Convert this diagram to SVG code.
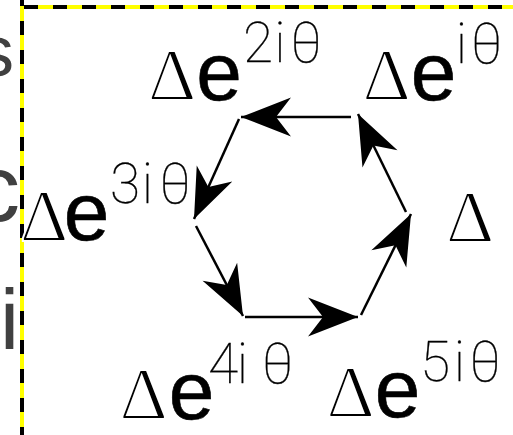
<svg xmlns="http://www.w3.org/2000/svg" width="513" height="435" viewBox="0 0 513 435">
<style>
.bg{font-family:"Liberation Sans",Arial,sans-serif;fill:#404040}
.d{font-family:"Liberation Serif","Times New Roman",serif;font-size:75px;fill:#000;stroke:#fff;stroke-width:2px;text-anchor:middle}
.e{font-family:"Liberation Sans",Arial,sans-serif;font-size:82px;fill:#000;stroke:#000;stroke-width:0.6px;text-anchor:middle}
.s{font-family:Roboto,"Liberation Sans",sans-serif;font-weight:100;font-size:55px;fill:#000;stroke:#000;stroke-width:0.3px;text-anchor:middle}
.c{fill:none;stroke:#000;stroke-width:2.5;marker-end:url(#ah)}
</style>
<defs>
<clipPath id="lc"><rect x="0" y="0" width="20" height="435"/></clipPath>
<marker id="ah" markerUnits="userSpaceOnUse" markerWidth="54" markerHeight="42" viewBox="-52 -21 54 42" refX="0" refY="0" orient="auto">
<path d="M0,0 L-50,-19.5 L-35,0 L-50,19.5 Z" fill="#000"/>
</marker>
</defs>
<rect width="513" height="435" fill="#fff"/>
<g id="bgtext" clip-path="url(#lc)">
<text class="bg" x="-22" y="76" font-size="72">s</text>
<text class="bg" x="-27" y="221" font-size="94">c</text>
<text class="bg" x="0" y="349" font-size="86">i</text>
</g>
<g id="frame">
<line x1="22" y1="6" x2="22" y2="435" stroke="#ffff00" stroke-width="4"/>
<line x1="22" y1="-8" x2="22" y2="435" stroke="#000" stroke-width="4" stroke-dasharray="14 15"/>
<line x1="24" y1="7" x2="513" y2="7" stroke="#ffff00" stroke-width="4"/>
<line x1="24" y1="7" x2="513" y2="7" stroke="#000" stroke-width="4" stroke-dasharray="14 15"/>
</g>
<g id="connectors">
<path class="c" d="M351,117 L241,117"/>
<path class="c" d="M239,119 L194,219"/>
<path class="c" d="M196,226 L243,316"/>
<path class="c" d="M245,317 L358,317"/>
<path class="c" d="M361,315 L411,214"/>
<path class="c" d="M406,212 L358,114"/>
</g>
<g id="n-e2">
<text class="d" x="172" y="100">Δ</text>
<text class="e" x="219" y="100">e</text>
<text class="s" x="258 280 306" y="62">2iθ</text>
</g>
<g id="n-e1">
<text class="d" x="386.5" y="100">Δ</text>
<text class="e" x="433.5" y="100">e</text>
<text class="s" x="461.5 486.5" y="63">iθ</text>
</g>
<g id="n-e3">
<text class="d" x="44" y="241">Δ</text>
<text class="e" x="86.5" y="240">e</text>
<text class="s" x="125 147.5 175" y="203">3iθ</text>
</g>
<g id="n-e0">
<text class="d" x="470" y="242">Δ</text>
</g>
<g id="n-e4">
<text class="d" x="143.5" y="419">Δ</text>
<text class="e" x="191.5" y="419">e</text>
<text class="s" x="223 242.5 277.5" y="383">4iθ</text>
</g>
<g id="n-e5">
<text class="d" x="350.5" y="417">Δ</text>
<text class="e" x="397.5" y="417">e</text>
<text class="s" x="435 459.5 485" y="381">5iθ</text>
</g>
</svg>
